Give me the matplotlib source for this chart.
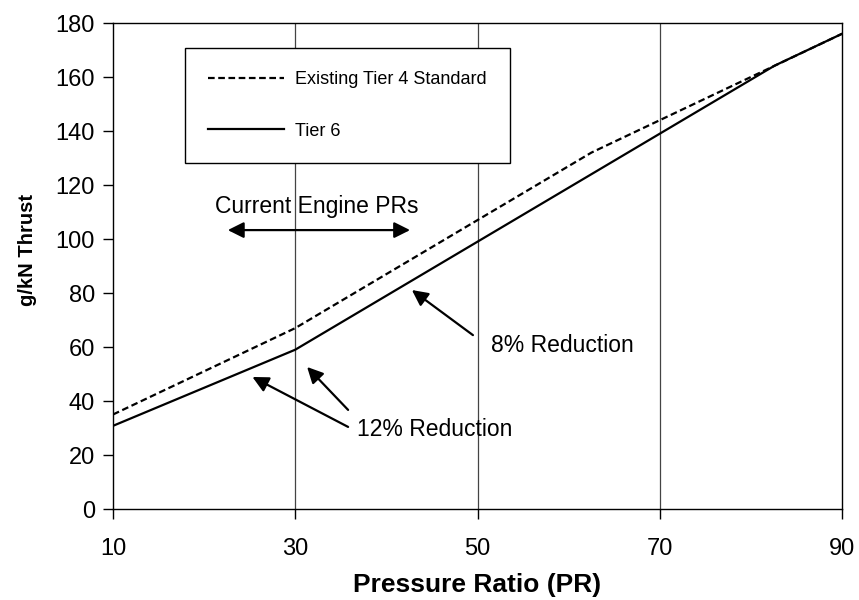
import matplotlib
matplotlib.use("Agg")
from matplotlib import pyplot as plt

plt.rcParams['font.family'] = ['Liberation Sans', 'DejaVu Sans']

# NOx limits vs pressure ratio
tier4_pr = [10, 30, 62.5, 90]
tier4_nox = [35, 67, 132, 176]
tier6_pr = [10, 30, 82.6, 90]
tier6_nox = [30.8, 59.0, 164.2, 176]

x_ticks = [10, 30, 50, 70, 90]
y_ticks = list(range(0, 181, 20))
grid_x = [30, 50, 70]

fig = plt.figure(figsize=(8.59, 6), dpi=100)
ax = fig.add_axes([113/859, 1-509/600, 729/859, 486/600])

for gx in grid_x:
    ax.axvline(gx, color='#444444', lw=0.9, zorder=1)

ax.plot(tier4_pr, tier4_nox, c='black', lw=1.6, ls=(0, (3, 1.6)),
        label='Existing Tier 4 Standard', zorder=3)
ax.plot(tier6_pr, tier6_nox, c='black', lw=1.6, ls='-', label='Tier 6', zorder=3)

ax.set_xlim(10, 90)
ax.set_ylim(0, 180)
ax.set_xticks(x_ticks)
ax.set_yticks(y_ticks)
ax.tick_params(axis='y', direction='out', length=7, width=1, labelsize=17, pad=6)
ax.tick_params(axis='x', direction='out', length=7, width=1, labelsize=17, pad=14)
for s in ax.spines.values():
    s.set_linewidth(1)
    s.set_color('black')

ax.set_xlabel('Pressure Ratio (PR)', fontsize=19, fontweight='bold',
              family=['Liberation Sans Narrow', 'Liberation Sans'])
ax.xaxis.set_label_coords(0.5, -0.132)
ax.set_ylabel('g/kN Thrust', fontsize=14.5, fontweight='bold')
ax.yaxis.set_label_coords(-0.104, 0.533)

leg = ax.legend(loc='upper left', bbox_to_anchor=(0.0988, 0.9486), borderaxespad=0,
                fontsize=13, frameon=True, fancybox=False, edgecolor='black',
                handlelength=4.2, handletextpad=0.6, labelspacing=1.9, borderpad=1.3)
leg.get_frame().set_linewidth(1)
leg.get_frame().set_alpha(1)
leg.set_zorder(5)

arrow_kw = dict(arrowstyle='-|>', color='black', lw=1.6, mutation_scale=24,
                shrinkA=0, shrinkB=0)

ax.text(32.4, 111.9, 'Current Engine PRs', fontsize=16.5, ha='center', va='center')
ax.annotate('', xy=(22.6, 103.3), xytext=(42.6, 103.3),
            arrowprops=dict(arrowstyle='<|-|>', color='black', lw=1.6,
                            mutation_scale=24, shrinkA=0, shrinkB=0))

ax.text(45.3, 29.3, '12% Reduction', fontsize=16.5, ha='center', va='center')
ax.annotate('', xy=(25.3, 48.9), xytext=(35.8, 30.4), arrowprops=arrow_kw)
ax.annotate('', xy=(31.3, 52.6), xytext=(35.8, 36.7), arrowprops=arrow_kw)

ax.text(59.3, 60.7, '8% Reduction', fontsize=16.5, ha='center', va='center')
ax.annotate('', xy=(42.8, 81.1), xytext=(49.5, 64.4), arrowprops=arrow_kw)

plt.savefig('out.png', dpi=100)
